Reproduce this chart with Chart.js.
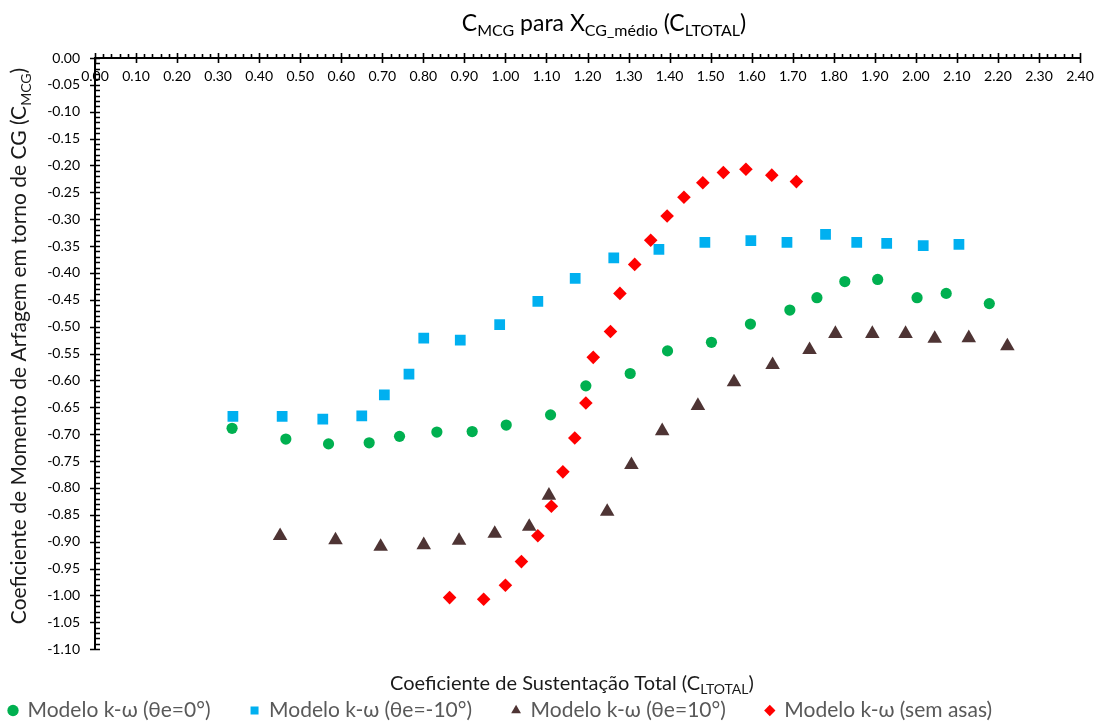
<!DOCTYPE html>
<html>
<head>
<meta charset="utf-8">
<title>CMCG para XCG_médio (CLTOTAL)</title>
<script src="https://cdn.jsdelivr.net/npm/chart.js@4.4.1/dist/chart.umd.min.js"></script>
<style>
  html, body { margin: 0; padding: 0; background: #fff; }
</style>
</head>
<body>
<canvas id="myChart" width="1105" height="723"></canvas>
<script>
// CL total (x) against pitching moment about the CG (y), one pair of arrays per run
var seriesNames = [
    'Modelo k-\u03c9 (\u03b8e=0\u00b0)',
    'Modelo k-\u03c9 (\u03b8e=-10\u00b0)',
    'Modelo k-\u03c9 (\u03b8e=10\u00b0)',
    'Modelo k-\u03c9 (sem asas)'
];

var clTheta0 = [0.334, 0.465, 0.569, 0.668, 0.742, 0.833, 0.919, 1.002, 1.110, 1.196, 1.304,
                1.395, 1.502, 1.597, 1.693, 1.759, 1.827, 1.907, 2.003, 2.074, 2.179];
var cmTheta0 = [-0.689, -0.709, -0.718, -0.716, -0.704, -0.696, -0.695, -0.683, -0.664, -0.610, -0.587,
                -0.545, -0.529, -0.495, -0.469, -0.446, -0.416, -0.412, -0.446, -0.438, -0.457];

var clThetaM10 = [0.336, 0.456, 0.555, 0.650, 0.705, 0.765, 0.801, 0.890, 0.986, 1.079, 1.170,
                  1.264, 1.374, 1.486, 1.598, 1.686, 1.780, 1.856, 1.929, 2.018, 2.105];
var cmThetaM10 = [-0.667, -0.667, -0.672, -0.666, -0.627, -0.588, -0.521, -0.525, -0.496, -0.453, -0.410,
                  -0.372, -0.356, -0.343, -0.340, -0.343, -0.328, -0.343, -0.345, -0.349, -0.347];

var clTheta10 = [0.451, 0.586, 0.696, 0.801, 0.887, 0.974, 1.058, 1.106, 1.248, 1.307, 1.382,
                 1.469, 1.557, 1.651, 1.741, 1.804, 1.894, 1.975, 2.046, 2.129, 2.223];
var cmTheta10 = [-0.889, -0.897, -0.909, -0.906, -0.898, -0.885, -0.872, -0.814, -0.844, -0.757, -0.694,
                 -0.647, -0.603, -0.571, -0.543, -0.513, -0.513, -0.513, -0.522, -0.521, -0.536];

var clSemAsas = [0.864, 0.947, 1.000, 1.039, 1.079, 1.112, 1.140, 1.169, 1.196, 1.214, 1.256,
                 1.279, 1.315, 1.354, 1.394, 1.435, 1.481, 1.531, 1.586, 1.649, 1.709];
var cmSemAsas = [-1.004, -1.007, -0.981, -0.937, -0.889, -0.834, -0.770, -0.707, -0.642, -0.557, -0.509,
                 -0.438, -0.384, -0.339, -0.294, -0.259, -0.232, -0.213, -0.207, -0.218, -0.230];

// axis ranges and tick spacing
var xRange = [0, 2.4];
var xMajorStep = 0.1;
var xMinorStep = 0.02;
var yRange = [-1.1, 0];
var yMajorStep = 0.05;
var yMinorStep = 0.01;

var FONT = 'Lato, "Noto Sans", sans-serif';

function toPoints(xs, ys) {
    return xs.map(function(x, i) { return { x: x, y: ys[i] }; });
}

function makeSet(label, xs, ys, color, style, radius) {
    return {
        label: label,
        data: toPoints(xs, ys),
        backgroundColor: color,
        borderColor: color,
        borderWidth: 0,
        pointStyle: style,
        pointRadius: radius,
        pointHoverRadius: radius
    };
}

// text with subscript runs: parts = [[text, isSub], ...], centred on cx, baseline at cy
function drawRich(ctx, parts, cx, cy, size, color, angle) {
    var mainFont = size + 'px ' + FONT;
    var subFont = Math.round(size * 0.68) + 'px ' + FONT;
    var total = 0;
    parts.forEach(function(p) {
        ctx.font = p[1] ? subFont : mainFont;
        total += ctx.measureText(p[0]).width;
    });
    ctx.save();
    ctx.translate(cx, cy);
    ctx.rotate(angle || 0);
    ctx.fillStyle = color;
    ctx.textAlign = 'left';
    ctx.textBaseline = 'alphabetic';
    var x = -total / 2;
    parts.forEach(function(p) {
        ctx.font = p[1] ? subFont : mainFont;
        ctx.fillText(p[0], x, p[1] ? size * 0.22 : 0);
        x += ctx.measureText(p[0]).width;
    });
    ctx.restore();
}

// cross-style major ticks and small minor ticks, plus the titles with subscripts
var axisDecor = {
    id: 'axisDecor',
    afterDraw: function(chart) {
        var ctx = chart.ctx;
        var xs = chart.scales.x;
        var ys = chart.scales.y;
        var axisY = Math.round(ys.getPixelForValue(0));
        var axisX = Math.round(xs.getPixelForValue(xRange[0]));
        var i, p;

        ctx.save();
        ctx.strokeStyle = '#000';
        ctx.lineWidth = 1.6;
        ctx.beginPath();
        var nx = Math.round((xRange[1] - xRange[0]) / xMinorStep);
        var perMajorX = Math.round(xMajorStep / xMinorStep);
        for (i = 0; i <= nx; i++) {
            p = Math.round(xs.getPixelForValue(xRange[0] + i * xMinorStep)) + 0.5;
            if (i % perMajorX === 0) {
                ctx.moveTo(p, axisY - 5);
                ctx.lineTo(p, axisY + 5);
            } else {
                ctx.moveTo(p, axisY - 4);
                ctx.lineTo(p, axisY);
            }
        }
        var ny = Math.round((yRange[1] - yRange[0]) / yMinorStep);
        var perMajorY = Math.round(yMajorStep / yMinorStep);
        for (i = 0; i <= ny; i++) {
            p = Math.round(ys.getPixelForValue(yRange[1] - i * yMinorStep)) + 0.5;
            if (i % perMajorY === 0) {
                ctx.moveTo(axisX - 5, p);
                ctx.lineTo(axisX + 5, p);
            } else {
                ctx.moveTo(axisX, p);
                ctx.lineTo(axisX + 5, p);
            }
        }
        ctx.stroke();
        ctx.restore();

        drawRich(ctx, [['C', false], ['MCG', true], [' para X', false], ['CG_m\u00e9dio', true],
                       [' (C', false], ['LTOTAL', true], [')', false]], 604, 31, 23, '#000');
        drawRich(ctx, [['Coeficiente de Sustenta\u00e7\u00e3o Total (C', false], ['LTOTAL', true], [')', false]],
                 572, 690, 20, '#1a1a1a');
        drawRich(ctx, [['Coeficiente de Momento de Arfagem em torno de CG (C', false], ['MCG', true], [')', false]],
                 26, 346, 21, '#1a1a1a', -Math.PI / 2);
    }
};

var ctx = document.getElementById('myChart').getContext('2d');

var myChart = new Chart(ctx, {
    type: 'scatter',
    data: {
        datasets: [
            makeSet(seriesNames[0], clTheta0, cmTheta0, '#00B050', 'circle', 5.6),
            makeSet(seriesNames[1], clThetaM10, cmThetaM10, '#00B0F0', 'rect', 7.6),
            makeSet(seriesNames[2], clTheta10, cmTheta10, '#4E3434', 'triangle', 8.4),
            makeSet(seriesNames[3], clSemAsas, cmSemAsas, '#FF0000', 'rectRot', 6.8)
        ]
    },
    options: {
        responsive: false,
        devicePixelRatio: 1,
        animation: false,
        layout: {
            padding: { left: -31, right: 25, top: 58, bottom: -8 }
        },
        scales: {
            x: {
                type: 'linear',
                position: { y: 0 },
                min: xRange[0],
                max: xRange[1],
                grid: { drawOnChartArea: false, drawTicks: false },
                border: { display: true, color: '#000', width: 2 },
                ticks: {
                    stepSize: xMajorStep,
                    padding: 10,
                    color: '#000',
                    font: { family: FONT, size: 14 },
                    maxRotation: 0,
                    autoSkip: false,
                    callback: function(v) { return Number(v).toFixed(2); }
                }
            },
            y: {
                type: 'linear',
                min: yRange[0],
                max: yRange[1],
                afterFit: function(scale) { scale.width = 95 + 31; },
                grid: { drawOnChartArea: false, drawTicks: false },
                border: { display: true, color: '#000', width: 2 },
                ticks: {
                    stepSize: yMajorStep,
                    padding: 15,
                    color: '#000',
                    font: { family: FONT, size: 14 },
                    autoSkip: false,
                    callback: function(v) { return Number(v).toFixed(2); }
                }
            }
        },
        plugins: {
            title: { display: false },
            tooltip: { enabled: false },
            legend: {
                display: true,
                position: 'bottom',
                align: 'start',
                title: { display: true, text: '', font: { size: 9 }, padding: 0 },
                labels: {
                    usePointStyle: true,
                    boxWidth: 8,
                    boxHeight: 8,
                    padding: 40,
                    color: '#595959',
                    font: { family: FONT, size: 21 }
                }
            }
        }
    },
    plugins: [axisDecor]
});
</script>
</body>
</html>
